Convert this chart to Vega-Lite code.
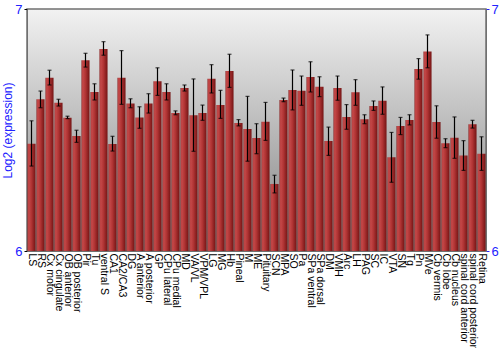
{
  "$schema": "https://vega.github.io/schema/vega-lite/v6.json",
  "autosize": {"type": "none"},
  "padding": {"left": 27, "top": 9, "right": 14, "bottom": 99},
  "width": 459,
  "height": 242,
  "background": "white",
  "config": {
    "font": "Liberation Sans",
    "view": {
      "stroke": "#707070",
      "strokeWidth": 1.5,
      "fill": {"gradient": "linear", "x1": 0, "y1": 0, "x2": 0, "y2": 1,
        "stops": [{"offset": 0, "color": "#f2f2f2"}, {"offset": 1, "color": "#808080"}]}
    }
  },
  "data": {"values": [
    {"name": "LS", "v": 6.443, "lo": 6.351, "hi": 6.538},
    {"name": "RS", "v": 6.627, "lo": 6.592, "hi": 6.661},
    {"name": "Cx motor", "v": 6.716, "lo": 6.686, "hi": 6.747},
    {"name": "Cx cingulate", "v": 6.613, "lo": 6.599, "hi": 6.627},
    {"name": "OB anterior", "v": 6.551, "lo": 6.547, "hi": 6.557},
    {"name": "OB posterior", "v": 6.475, "lo": 6.449, "hi": 6.499},
    {"name": "Pir", "v": 6.788, "lo": 6.760, "hi": 6.817},
    {"name": "Tu", "v": 6.657, "lo": 6.624, "hi": 6.691},
    {"name": "ventral S", "v": 6.835, "lo": 6.809, "hi": 6.865},
    {"name": "CA1", "v": 6.442, "lo": 6.413, "hi": 6.474},
    {"name": "CA2/CA3", "v": 6.716, "lo": 6.606, "hi": 6.828},
    {"name": "DG", "v": 6.610, "lo": 6.592, "hi": 6.629},
    {"name": "A anterior", "v": 6.552, "lo": 6.507, "hi": 6.596},
    {"name": "A posterior", "v": 6.610, "lo": 6.570, "hi": 6.650},
    {"name": "GP", "v": 6.701, "lo": 6.643, "hi": 6.757},
    {"name": "CPu lateral", "v": 6.657, "lo": 6.624, "hi": 6.691},
    {"name": "CPu medial", "v": 6.570, "lo": 6.563, "hi": 6.579},
    {"name": "MD", "v": 6.674, "lo": 6.661, "hi": 6.686},
    {"name": "VA/VL", "v": 6.561, "lo": 6.412, "hi": 6.711},
    {"name": "VPM/VPL", "v": 6.570, "lo": 6.540, "hi": 6.603},
    {"name": "LG", "v": 6.712, "lo": 6.653, "hi": 6.770},
    {"name": "MG", "v": 6.603, "lo": 6.548, "hi": 6.664},
    {"name": "Hb", "v": 6.744, "lo": 6.676, "hi": 6.813},
    {"name": "Pineal", "v": 6.529, "lo": 6.517, "hi": 6.543},
    {"name": "M", "v": 6.504, "lo": 6.371, "hi": 6.639},
    {"name": "ME", "v": 6.467, "lo": 6.402, "hi": 6.526},
    {"name": "Pituitary", "v": 6.534, "lo": 6.457, "hi": 6.614},
    {"name": "SCN", "v": 6.277, "lo": 6.240, "hi": 6.313},
    {"name": "MPA", "v": 6.624, "lo": 6.617, "hi": 6.632},
    {"name": "SO", "v": 6.665, "lo": 6.583, "hi": 6.748},
    {"name": "Pa", "v": 6.662, "lo": 6.602, "hi": 6.723},
    {"name": "SPa ventral", "v": 6.719, "lo": 6.657, "hi": 6.782},
    {"name": "SPa dorsal", "v": 6.679, "lo": 6.638, "hi": 6.720},
    {"name": "DM", "v": 6.455, "lo": 6.395, "hi": 6.512},
    {"name": "VMH", "v": 6.674, "lo": 6.623, "hi": 6.723},
    {"name": "Arc", "v": 6.554, "lo": 6.503, "hi": 6.605},
    {"name": "LH", "v": 6.656, "lo": 6.602, "hi": 6.708},
    {"name": "PAG", "v": 6.544, "lo": 6.526, "hi": 6.563},
    {"name": "SC", "v": 6.599, "lo": 6.581, "hi": 6.620},
    {"name": "IC", "v": 6.621, "lo": 6.565, "hi": 6.678},
    {"name": "VTA", "v": 6.387, "lo": 6.284, "hi": 6.490},
    {"name": "SN", "v": 6.517, "lo": 6.481, "hi": 6.552},
    {"name": "Tg", "v": 6.541, "lo": 6.521, "hi": 6.563},
    {"name": "Pn", "v": 6.752, "lo": 6.710, "hi": 6.795},
    {"name": "MVe", "v": 6.824, "lo": 6.757, "hi": 6.893},
    {"name": "Cb vermis", "v": 6.533, "lo": 6.466, "hi": 6.600},
    {"name": "Cb lobe", "v": 6.445, "lo": 6.427, "hi": 6.464},
    {"name": "Cb nucleus", "v": 6.468, "lo": 6.383, "hi": 6.554},
    {"name": "spinal cord anterior", "v": 6.395, "lo": 6.333, "hi": 6.456},
    {"name": "spinal cord posterior", "v": 6.524, "lo": 6.508, "hi": 6.540},
    {"name": "Retina", "v": 6.402, "lo": 6.333, "hi": 6.472}
  ]},
  "encoding": {
    "x": {"field": "name", "type": "nominal", "sort": null,
      "scale": {"paddingInner": 0.1, "paddingOuter": 0.05},
      "axis": {"title": null, "labelAngle": 90, "labelFontSize": 10.5, "labelColor": "black",
        "ticks": false, "labelPadding": 2, "domainColor": "#707070", "labelOverlap": false, "labelLimit": 120}}
  },
  "layer": [
    {
      "mark": {"type": "bar", "fill": {"gradient": "linear", "x1": 0, "y1": 0, "x2": 1, "y2": 0,
        "stops": [{"offset": 0, "color": "#8a2020"}, {"offset": 0.15, "color": "#c64a4a"}, {"offset": 0.5, "color": "#b03434"}, {"offset": 1, "color": "#741414"}]}},
      "encoding": {
        "y": {"field": "v", "type": "quantitative",
          "scale": {"domain": [6, 7], "zero": false, "clamp": true},
          "axis": {"title": "Log2 (expression)", "titleColor": "#2222ff", "titleFontSize": 12, "titleFontWeight": "normal",
            "labelColor": "#2222ff", "labelFontSize": 13, "values": [6, 7], "format": "d", "grid": false,
            "tickColor": "black", "tickSize": 3, "domainColor": "#707070", "titlePadding": 0, "labelPadding": 2}}
      }
    },
    {
      "mark": {"type": "rule", "color": "black", "strokeWidth": 1.2},
      "encoding": {
        "y": {"field": "lo", "type": "quantitative",
          "axis": {"orient": "right", "title": null, "labelColor": "#2222ff", "labelFontSize": 13, "values": [6, 7], "format": "d",
            "grid": false, "tickColor": "#2222ff", "tickSize": 3, "domainColor": "#707070", "labelPadding": 2}},
        "y2": {"field": "hi"}
      }
    },
    {
      "mark": {"type": "tick", "color": "black", "size": 4, "thickness": 1.2},
      "encoding": {"y": {"field": "lo", "type": "quantitative", "axis": null}}
    },
    {
      "mark": {"type": "tick", "color": "black", "size": 4, "thickness": 1.2},
      "encoding": {"y": {"field": "hi", "type": "quantitative", "axis": null}}
    }
  ],
  "resolve": {"axis": {"y": "independent"}}
}
